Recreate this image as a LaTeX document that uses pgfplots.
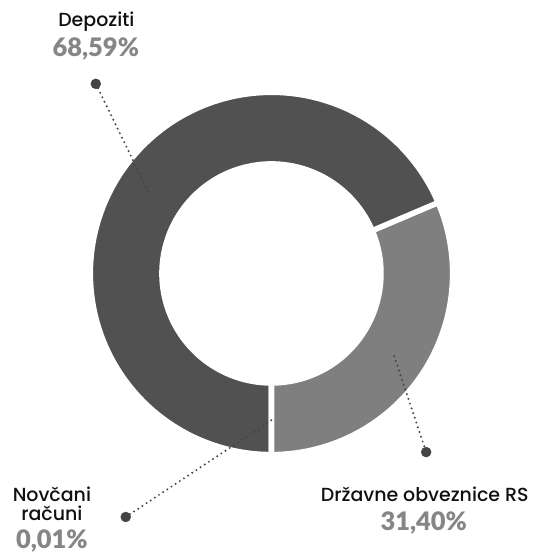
\documentclass[border=0pt]{standalone}
\usepackage{pgfplots}
\pgfplotsset{compat=1.18}
\usepackage{fontspec}
\setmainfont{Lato}
\newfontfamily\labfont{Poppins Medium}
\newfontfamily\pctfont{Lato Black}
\definecolor{darkslice}{HTML}{515151}
\definecolor{lightslice}{HTML}{7F7F7F}
\definecolor{pctgray}{HTML}{868686}
\definecolor{dotc}{HTML}{444444}
\definecolor{labc}{HTML}{111111}
\begin{document}
\begin{tikzpicture}
% slice values (percent)
\def\vN{0.01}% Novcani racuni
\def\vD{68.59}% Depoziti
\def\vS{31.40}% Drzavne obveznice RS
\pgfmathsetmacro{\cx}{272}
\pgfmathsetmacro{\cy}{-274}
\pgfmathsetmacro{\R}{181.5}
\pgfmathsetmacro{\r}{112.5}
\pgfmathsetmacro{\aS}{-90}
\pgfmathsetmacro{\bS}{-90+3.6*\vS}
\pgfmathsetmacro{\bD}{\bS+3.6*\vD}
\pgfmathsetmacro{\bN}{\bD+3.6*\vN}
\begin{axis}[hide axis, scale only axis, width=540pt, height=556pt,
  xmin=0, xmax=540, ymin=-556, ymax=0, clip=false]
\path (axis cs:0,0) rectangle (axis cs:540,-556);
\addplot[fill=lightslice, draw=white, line width=5.5pt, line join=round, domain=\aS:\bS, samples=120, variable=\t]
  ({\cx+\R*cos(\t)},{\cy+\R*sin(\t)}) -- (axis cs:\cx,\cy) -- cycle;
\addplot[fill=darkslice, draw=white, line width=5.5pt, line join=round, domain=\bS:\bD, samples=200, variable=\t]
  ({\cx+\R*cos(\t)},{\cy+\R*sin(\t)}) -- (axis cs:\cx,\cy) -- cycle;
\addplot[fill=darkslice, draw=white, line width=5.5pt, line join=round, domain=\bD:\bN, samples=2, variable=\t]
  ({\cx+\R*cos(\t)},{\cy+\R*sin(\t)}) -- (axis cs:\cx,\cy) -- cycle;
\addplot[fill=white, draw=none, domain=0:360, samples=181, variable=\t]
  ({\cx+\r*cos(\t)},{\cy+\r*sin(\t)}) -- cycle;
% leader lines
\addplot[dotc, line width=2.2pt, line cap=round, dash pattern=on 0pt off 5pt] coordinates {(96,-84) (150,-195)};
\addplot[dotc, line width=2.2pt, line cap=round, dash pattern=on 0pt off 5pt] coordinates {(395,-357) (427,-453)};
\addplot[dotc, line width=2.2pt, line cap=round, dash pattern=on 0pt off 5pt] coordinates {(126,-518) (272,-421)};
\addplot[only marks, mark=*, mark size=5pt, dotc] coordinates {(96,-84) (427,-453) (126,-518)};
% labels
\node[anchor=base, text=labc, font=\labfont\fontsize{19}{21}\selectfont] at (axis cs:96.5,-27) {Depoziti};
\node[anchor=base, font=\pctfont\fontsize{25.5}{28}\selectfont, text=pctgray] at (axis cs:96,-57) {68,59\%};
\node[anchor=base, text=labc, font=\labfont\fontsize{19}{21}\selectfont] at (axis cs:425.5,-502) {Državne obveznice RS};
\node[anchor=base, font=\pctfont\fontsize{25.5}{28}\selectfont, text=pctgray] at (axis cs:424.6,-532) {31,40\%};
\node[anchor=base, text=labc, font=\labfont\fontsize{19}{21}\selectfont] at (axis cs:52,-502) {Novčani};
\node[anchor=base, text=labc, font=\labfont\fontsize{19}{21}\selectfont] at (axis cs:52,-522) {računi};
\node[anchor=base, font=\pctfont\fontsize{25.5}{28}\selectfont, text=pctgray] at (axis cs:52,-550) {0,01\%};
\end{axis}
\end{tikzpicture}
\end{document}
